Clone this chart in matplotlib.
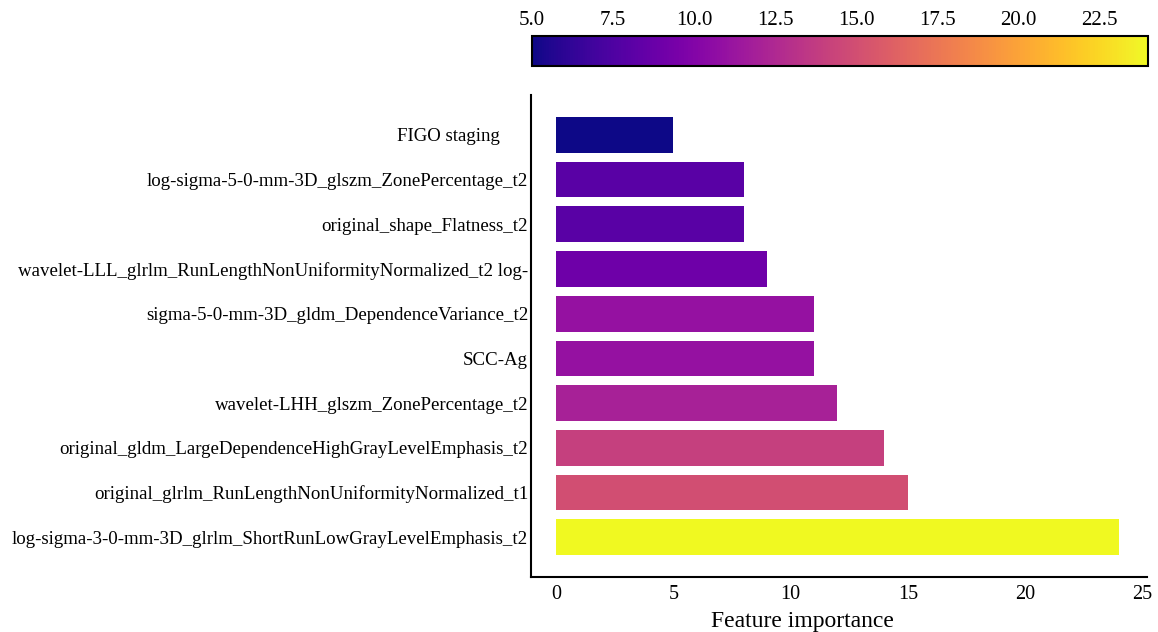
import numpy as np
import matplotlib
matplotlib.use('Agg')
import matplotlib.pyplot as plt
from matplotlib import cm
from matplotlib.colors import Normalize

plt.rcParams['font.family'] = ['Liberation Serif', 'DejaVu Serif']

features = [
    'FIGO staging      ',
    'log-sigma-5-0-mm-3D_glszm_ZonePercentage_t2',
    'original_shape_Flatness_t2',
    'wavelet-LLL_glrlm_RunLengthNonUniformityNormalized_t2 log-',
    'sigma-5-0-mm-3D_gldm_DependenceVariance_t2',
    'SCC-Ag',
    'wavelet-LHH_glszm_ZonePercentage_t2',
    'original_gldm_LargeDependenceHighGrayLevelEmphasis_t2',
    'original_glrlm_RunLengthNonUniformityNormalized_t1',
    'log-sigma-3-0-mm-3D_glrlm_ShortRunLowGrayLevelEmphasis_t2',
]
importance = [5, 8, 8, 9, 11, 11, 12, 14, 15, 24]

norm = Normalize(vmin=min(importance), vmax=max(importance))
cmap = plt.get_cmap('plasma')
colors = [cmap(norm(v)) for v in importance]

fig = plt.figure(figsize=(11.58, 6.32), dpi=100)
ax = fig.add_axes([0.4585, 0.087, 0.532, 0.7625])
y = np.arange(len(features))
ax.barh(y, importance, color=colors, height=0.8)
ax.set_yticks(y)
ax.set_yticklabels(features, fontsize=13.6)
ax.invert_yaxis()
ax.set_xlim(-1.07, 25.2)
ax.set_xticks([0, 5, 10, 15, 20, 25])
ax.tick_params(axis='both', length=0)
ax.tick_params(axis='x', labelsize=14.5, pad=6)
ax.tick_params(axis='y', pad=2)
ax.set_xlabel('Feature importance', fontsize=17)
ax.xaxis.set_label_coords(0.44, -0.07)
for s in ['top', 'right']:
    ax.spines[s].set_visible(False)
for s in ['left', 'bottom']:
    ax.spines[s].set_linewidth(1.5)

cax = fig.add_axes([0.4594, 0.8956, 0.532, 0.0475])
sm = cm.ScalarMappable(norm=norm, cmap=cmap)
cb = fig.colorbar(sm, cax=cax, orientation='horizontal')
cb.set_ticks([5.0, 7.5, 10.0, 12.5, 15.0, 17.5, 20.0, 22.5])
cb.ax.xaxis.set_ticks_position('top')
cb.ax.tick_params(length=0, labelsize=15, pad=4)
cb.outline.set_linewidth(1.5)

fig.savefig('out.png', dpi=100)
